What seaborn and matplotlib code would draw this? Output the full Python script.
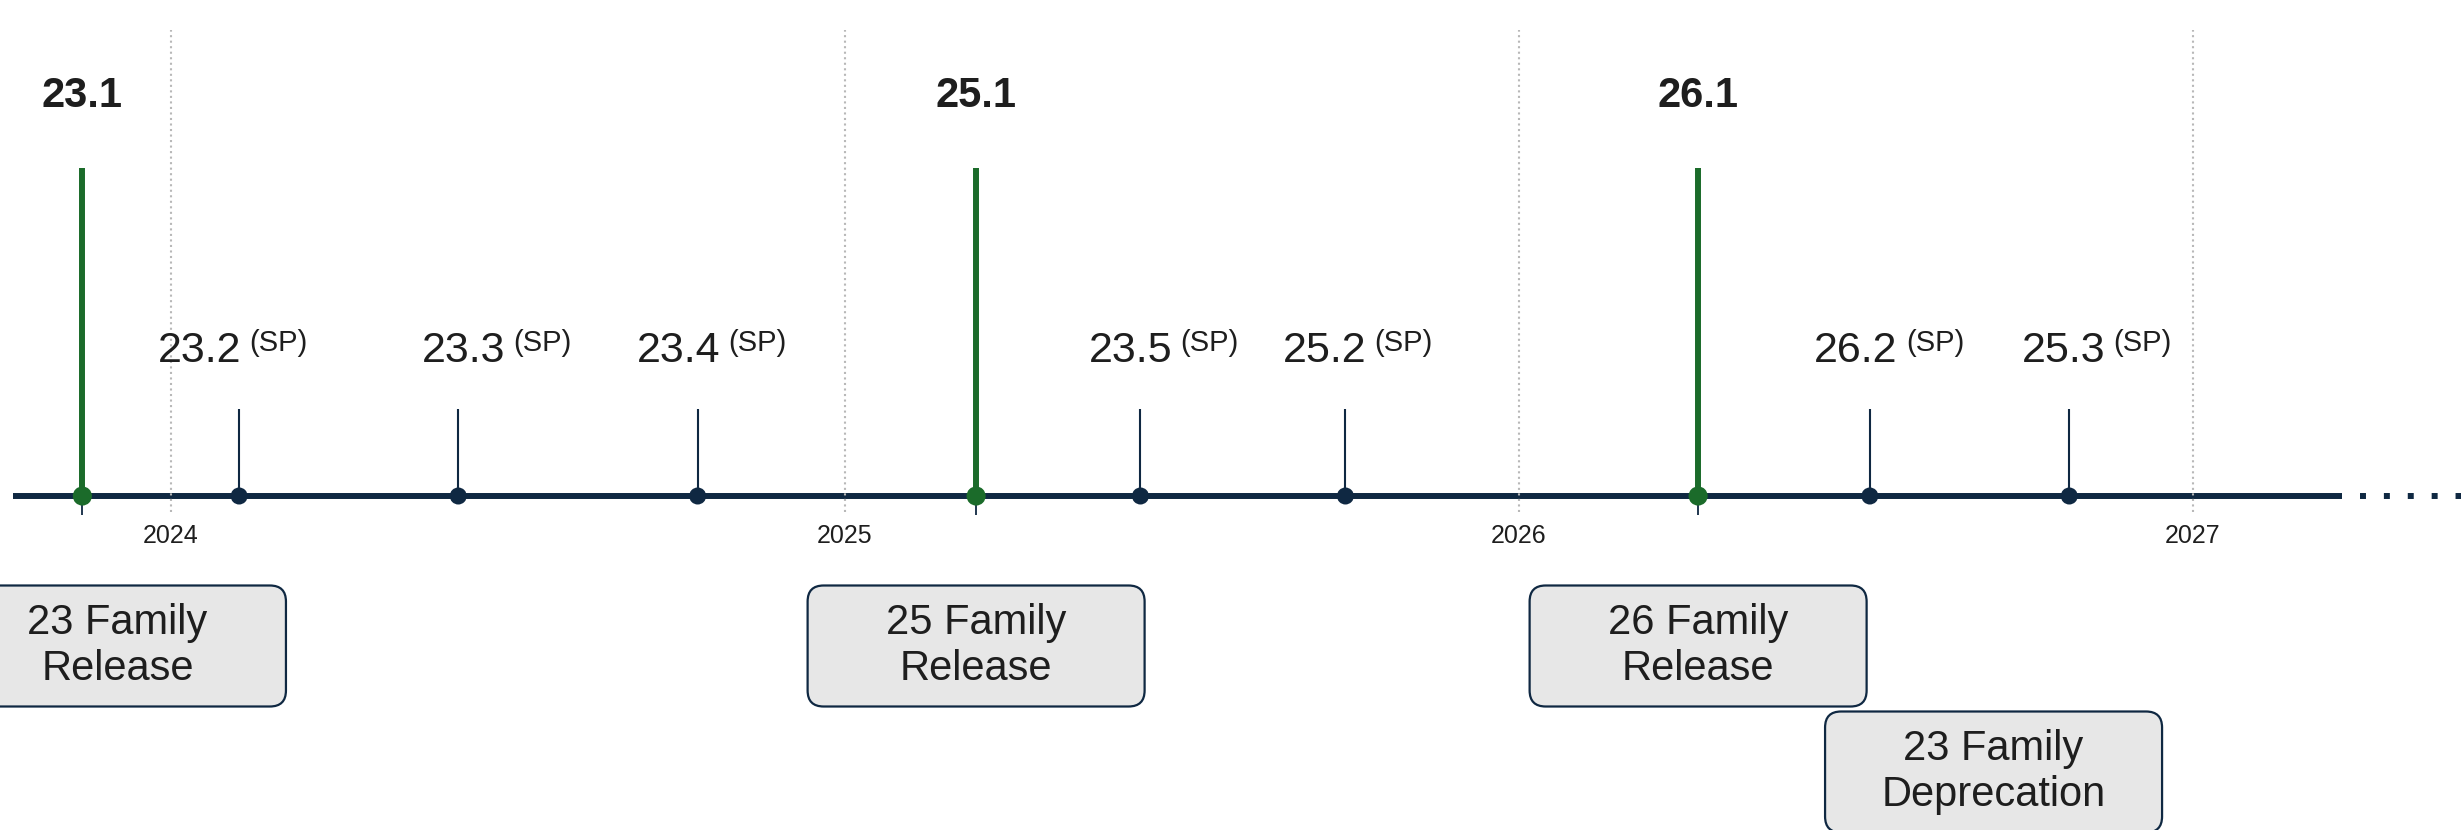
import pandas as pd
import matplotlib
matplotlib.use("Agg")
import matplotlib.pyplot as plt
from matplotlib.patches import FancyBboxPatch
import seaborn as sns

# major releases (green stems)
release_names = ["23.1", "25.1", "26.1"]
release_dates = ["2023-11-14", "2025-03-13", "2026-04-08"]

# service packs (small navy stems)
sp_names = ["23.2", "23.3", "23.4", "23.5", "25.2", "26.2", "25.3"]
sp_dates = ["2024-02-07", "2024-06-05", "2024-10-13", "2025-06-10",
            "2025-09-29", "2026-07-10", "2026-10-26"]

# family milestone boxes under the axis
box_labels = ["23 Family\nRelease", "25 Family\nRelease",
              "26 Family\nRelease", "23 Family\nDeprecation"]
box_dates = ["2023-12-03", "2025-03-13", "2026-04-08", "2026-09-15"]
box_rows = [0, 0, 0, 1]

years = [2024, 2025, 2026, 2027]

NAVY = "#0f2842"
GREEN = "#1b6b2a"
TEXT = "#1e1e1e"

# layout: pixels per year / per y unit, pixel of 2024 and of the axis line
PX_YR = 674
PX_Y = 328
X2024 = 171
Y_AXIS = 496
W, H = 2461, 830

# small horizontal nudges (px) of the SP labels, as drawn in the original
sp_nudge = [-8, 37, 13, 22, 11, 18, 26]


def frac_year(s):
    d = pd.Timestamp(s)
    n = 366 if d.is_leap_year else 365
    return d.year + (d - pd.Timestamp(d.year, 1, 1)).days / n


def px(dx):
    return dx / PX_YR


def py(y_pixel):
    return (Y_AXIS - y_pixel) / PX_Y


events = pd.DataFrame({
    "name": release_names + sp_names,
    "x": [frac_year(d) for d in release_dates + sp_dates],
    "kind": ["release"] * len(release_names) + ["sp"] * len(sp_names),
})
events["y"] = 0.0
rel = events[events.kind == "release"]
sps = events[events.kind == "sp"]

sns.set_theme(style="white")
plt.rcParams["font.family"] = ["Liberation Sans", "DejaVu Sans"]

fig = plt.figure(figsize=(W / 100, H / 100), dpi=100)
ax = fig.add_axes([0, 0, 1, 1])
x_left = 2024 - X2024 / PX_YR

# timeline axis + dotted continuation
ax.plot([x_left + px(13), x_left + px(2342)], [0, 0], color=NAVY, lw=4.3,
        solid_capstyle="butt", zorder=2)
ax.plot([x_left + px(2360), x_left + px(2480)], [0, 0], color=NAVY, lw=4.3,
        ls=(0, (1, 3)), dash_capstyle="butt", zorder=2)

# year gridlines and labels
ax.vlines(years, py(512), py(30), colors="#b8b8b8", linestyles=":", lw=1.5, zorder=3)
for yr in years:
    ax.text(yr, py(543), str(yr), ha="center", va="baseline", fontsize=18, color=TEXT)

# stems
ax.vlines(rel.x, 0, 1.0, color=GREEN, lw=4.3, zorder=2)
ax.vlines(rel.x, py(515), 0, color=NAVY, lw=1.3, zorder=1)
ax.vlines(sps.x, 0, py(409), color=NAVY, lw=1.5, zorder=2)

sns.scatterplot(data=events, x="x", y="y", hue="kind", size="kind",
                palette={"release": GREEN, "sp": NAVY},
                sizes={"release": 190, "sp": 150},
                linewidth=0, legend=False, ax=ax, zorder=4)
ax.set_xlim(x_left, x_left + W / PX_YR)
ax.set_ylim(py(H), py(0))
ax.axis("off")

# labels
for _, r in rel.iterrows():
    ax.text(r.x, py(107), r["name"], ha="center", va="baseline",
            fontsize=30, fontweight="bold", color=TEXT)
for (_, r), nud in zip(sps.iterrows(), sp_nudge):
    c = r.x + px(nud)
    ax.text(c + px(10), py(362), r["name"], ha="right", va="baseline",
            fontsize=31, color=TEXT)
    ax.text(c + px(18), py(351), "(SP)", ha="left", va="baseline",
            fontsize=21, color=TEXT)

# milestone boxes
box_w = px(337)
box_h = 121 / PX_Y
row_y = [py(646), py(772)]
for lab, d, row in zip(box_labels, box_dates, box_rows):
    cx = frac_year(d)
    cy = row_y[row]
    patch = FancyBboxPatch((cx - box_w / 2, cy - box_h / 2), box_w, box_h,
                           boxstyle=f"round,pad=0,rounding_size={px(16)}",
                           mutation_aspect=PX_YR / PX_Y,
                           facecolor="#e7e7e7", edgecolor=NAVY, lw=1.6, zorder=3)
    ax.add_patch(patch)
    ax.text(cx, cy, lab, ha="center", va="center", fontsize=30,
            linespacing=1.18, color=TEXT, zorder=4)

fig.savefig("out.png", dpi=100)
